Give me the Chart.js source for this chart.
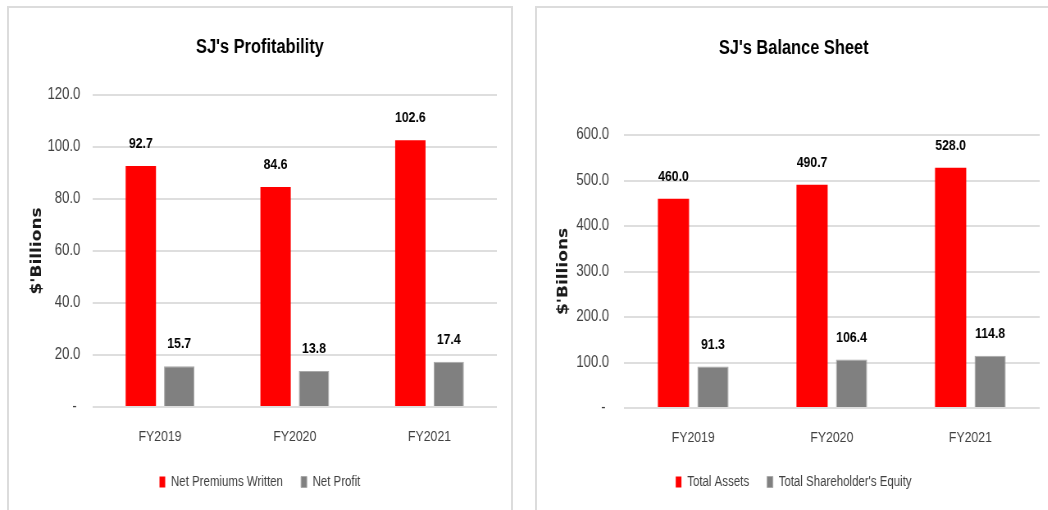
<!DOCTYPE html>
<html>
<head>
<meta charset="utf-8">
<script src="https://cdn.jsdelivr.net/npm/chart.js@4.4.0/dist/chart.umd.min.js"></script>
<style>
  html, body { margin: 0; padding: 0; background: #fff; overflow: hidden; }
  body { width: 1048px; height: 510px; position: relative; }
  .panel { position: absolute; border: 2px solid #dcdcdc; background: #fff; overflow: hidden; }
  #leftPanel { left: 7px; top: 6px; width: 502px; height: 520px; }
  #rightPanel { left: 535px; top: 6px; width: 540px; height: 520px; }
  /* the source picture is squeezed sideways, so the canvases are too */
  canvas { position: absolute; left: 0; top: 0; transform: scaleX(0.82); transform-origin: 0 0; }
</style>
</head>
<body>
<div class="panel" id="leftPanel"><canvas id="profitChart" width="612" height="502"></canvas></div>
<div class="panel" id="rightPanel"><canvas id="balanceChart" width="626" height="502"></canvas></div>
<script>
const categories = ['FY2019', 'FY2020', 'FY2021'];

const netPremiumsWritten = [92.7, 84.6, 102.6];
const netProfit = [15.7, 13.8, 17.4];

const totalAssets = [460.0, 490.7, 528.0];
const shareholdersEquity = [91.3, 106.4, 114.8];

const profitTicks = [0, 20, 40, 60, 80, 100, 120];
const balanceTicks = [0, 100, 200, 300, 400, 500, 600];

const SANS = "'Liberation Sans', Arial, sans-serif";

// value labels above each bar
const barLabels = {
    id: 'barLabels',
    afterDatasetsDraw(chart) {
        const ctx = chart.ctx;
        ctx.save();
        ctx.font = "bold 15px " + SANS;
        ctx.fillStyle = '#000';
        ctx.textAlign = 'center';
        ctx.textBaseline = 'middle';
        chart.data.datasets.forEach((ds, i) => {
            chart.getDatasetMeta(i).data.forEach((bar, j) => {
                ctx.fillText(ds.data[j].toFixed(1), bar.x, bar.y - 22);
            });
        });
        ctx.restore();
    }
};

function makeChart(id, title, labels, series, ticks, opts) {
    const ctx = document.getElementById(id).getContext('2d');
    return new Chart(ctx, {
        type: 'bar',
        data: {
            labels: labels,
            datasets: [
                {
                    label: series[0].name,
                    data: series[0].data,
                    backgroundColor: '#ff0000',
                    borderWidth: 0,
                    categoryPercentage: 0.57,
                    barPercentage: 0.79
                },
                {
                    label: series[1].name,
                    data: series[1].data,
                    backgroundColor: '#808080',
                    borderColor: '#a8a8a8',
                    borderWidth: 1,
                    categoryPercentage: 0.57,
                    barPercentage: 0.79
                }
            ]
        },
        options: {
            responsive: false,
            animation: false,
            devicePixelRatio: 1,
            layout: {
                padding: {left: opts.pad, right: opts.pad, top: 0, bottom: 11}
            },
            plugins: {
                title: {
                    display: true,
                    text: title,
                    color: '#000',
                    font: {family: SANS, size: 20, weight: 'bold'},
                    padding: {top: opts.titleTop, bottom: opts.titleBottom}
                },
                legend: {
                    position: 'bottom',
                    labels: {
                        boxWidth: 7,
                        boxHeight: 11,
                        padding: 22,
                        color: '#404040',
                        font: {family: SANS, size: 14}
                    }
                },
                tooltip: {enabled: false}
            },
            scales: {
                x: {
                    grid: {display: false},
                    border: {display: false},
                    ticks: {
                        color: '#404040',
                        padding: 13,
                        font: {family: SANS, size: 15}
                    },
                    afterFit: s => { s.height = opts.xHeight; }
                },
                y: {
                    min: ticks[0],
                    max: ticks[ticks.length - 1],
                    afterBuildTicks: s => { s.ticks = ticks.map(v => ({value: v})); },
                    grid: {color: '#dedede', lineWidth: 2, drawTicks: false},
                    border: {display: false},
                    ticks: {
                        color: '#404040',
                        padding: opts.tickPad,
                        font: {family: SANS, size: 16},
                        callback: v => v === 0 ? '- ' : v.toFixed(1)
                    },
                    title: {
                        display: true,
                        text: "$'Billions",
                        color: '#1a1a1a',
                        font: {family: "'DejaVu Sans', sans-serif", size: 17, weight: 'bold'},
                        padding: {top: opts.yTitlePad, bottom: 0}
                    },
                    afterFit: s => { s.width = opts.yWidth; }
                }
            }
        },
        plugins: [barLabels]
    });
}

makeChart('profitChart', "SJ's Profitability", categories,
    [{name: 'Net Premiums Written', data: netPremiumsWritten},
     {name: 'Net Profit', data: netProfit}],
    profitTicks,
    {pad: 17, titleTop: 27, titleBottom: 36, xHeight: 46, yWidth: 85, tickPad: 15, yTitlePad: 7});

makeChart('balanceChart', "SJ's Balance Sheet", categories,
    [{name: 'Total Assets', data: totalAssets},
     {name: "Total Shareholder's Equity", data: shareholdersEquity}],
    balanceTicks,
    {pad: 13, titleTop: 28, titleBottom: 75, xHeight: 45, yWidth: 93, tickPad: 18, yTitlePad: 9});
</script>
</body>
</html>
